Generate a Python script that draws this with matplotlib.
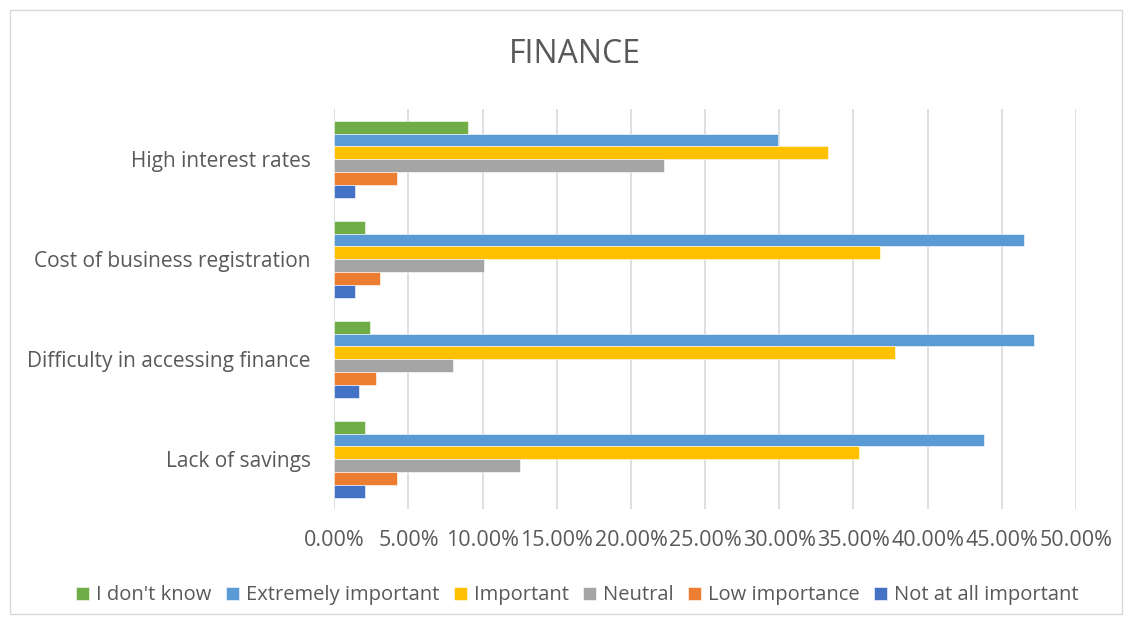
import numpy as np
import matplotlib.pyplot as plt
from matplotlib.ticker import PercentFormatter
from matplotlib.patches import Rectangle

plt.rcParams['font.family'] = ['Open Sans', 'DejaVu Sans']

categories = ['High interest rates', 'Cost of business registration',
              'Difficulty in accessing finance', 'Lack of savings']
series = ["I don't know", 'Extremely important', 'Important', 'Neutral',
          'Low importance', 'Not at all important']
colors = ['#70AD47', '#5B9BD5', '#FFC000', '#A5A5A5', '#ED7D31', '#4472C4']

# shares per category, in the same order as categories
dont_know = [0.090, 0.021, 0.024, 0.021]
extremely = [0.299, 0.465, 0.472, 0.438]
important = [0.333, 0.368, 0.378, 0.354]
neutral = [0.222, 0.101, 0.080, 0.125]
low = [0.042, 0.031, 0.028, 0.042]
not_at_all = [0.014, 0.014, 0.017, 0.021]
values = [dont_know, extremely, important, neutral, low, not_at_all]

fig = plt.figure(figsize=(11.32, 6.24), dpi=100)
ax = fig.add_axes([0.2953, 0.184, 0.6552, 0.641])

# chart border
fig.patches.append(Rectangle((0.009, 0.016), 0.982, 0.968, transform=fig.transFigure,
                             fill=False, edgecolor='#D9D9D9', linewidth=1))

n = len(series)
bar_h = 0.128
y = np.arange(len(categories))[::-1].astype(float)
for i, (name, vals, c) in enumerate(zip(series, values, colors)):
    offset = (n - 1) / 2 * bar_h - i * bar_h
    ax.barh(y + offset, vals, height=bar_h, color=c, label=name,
            edgecolor='white', linewidth=0.4, zorder=3)

ax.set_xlim(0, 0.5)
ax.set_ylim(-0.5, len(categories) - 0.5)
ax.set_xticks(np.arange(0, 0.51, 0.05))
ax.xaxis.set_major_formatter(PercentFormatter(1.0, decimals=2))
ax.set_yticks(y)
ax.set_yticklabels(categories)
ax.tick_params(axis='both', length=0, colors='#595959')
ax.tick_params(axis='x', pad=15, labelsize=15.5)
ax.tick_params(axis='y', pad=17, labelsize=15)
ax.grid(axis='x', color='#D9D9D9', linewidth=1.2, zorder=0)
for s in ax.spines.values():
    s.set_visible(False)

fig.text(0.508, 0.912, 'FINANCE', ha='center', va='center', fontsize=23, color='#595959')

fig.legend(loc='center', bbox_to_anchor=(0.51, 0.046), ncol=6, frameon=False,
           fontsize=14.5, handlelength=0.65, handleheight=0.65, handletextpad=0.35,
           columnspacing=0.7, labelcolor='#595959')

fig.savefig('out.png', dpi=100)
